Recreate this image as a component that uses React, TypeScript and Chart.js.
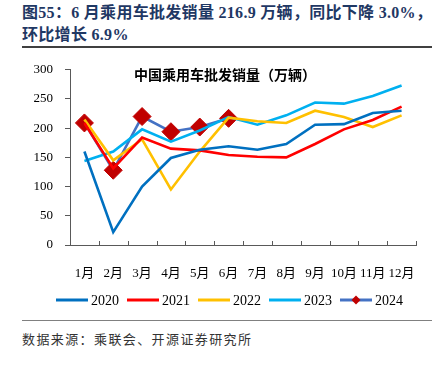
import React, { useEffect, useRef } from "react";
import { Chart, registerables } from "chart.js";

Chart.register(...registerables);

const months = ["1月", "2月", "3月", "4月", "5月", "6月", "7月", "8月", "9月", "10月", "11月", "12月"];
const s2020 = [160, 22, 100, 149, 163, 169, 163, 173, 206, 207, 226, 230];
const s2021 = [209, 131, 184, 165, 162, 154, 151, 150, 173, 198, 214, 237];
const s2022 = [215, 145, 181, 95, 160, 218, 212, 209, 230, 219, 202, 222];
const s2023 = [144, 160, 198, 177, 196, 219, 206, 222, 244, 242, 255, 273];
const s2024 = [209, 128, 220, 194, 202, 216.9];
const yTicks = [0, 50, 100, 150, 200, 250, 300];

const SERIF = '"Liberation Serif", "Times New Roman", "Noto Sans CJK SC", serif';

const overlayPlugin = {
  id: "overlay",
  afterDraw(chart: any) {
    const ctx = chart.ctx;
    const area = chart.chartArea;
    ctx.save();
    ctx.strokeStyle = "#595959";
    ctx.lineWidth = 1;
    const n = months.length;
    const step = (area.right - area.left) / n;
    for (let i = 1; i <= n; i++) {
      const x = Math.round(area.left + i * step) + 0.5;
      ctx.beginPath();
      ctx.moveTo(x, area.bottom);
      ctx.lineTo(x, area.bottom - 4);
      ctx.stroke();
    }
    ctx.fillStyle = "#000";
    ctx.font = 'bold 14px "Noto Sans CJK SC", serif';
    ctx.textAlign = "center";
    ctx.textBaseline = "middle";
    ctx.fillText("中国乘用车批发销量（万辆）", 225, area.top + 5);
    ctx.font = "14px " + SERIF;
    ctx.textAlign = "left";
    const lineW = 32;
    const items = chart.data.datasets.map((d: any) => ({ d, w: ctx.measureText(d.label).width }));
    const gapA = 3;
    const gapB = 8;
    let total = 0;
    items.forEach((it: any, i: number) => {
      total += lineW + gapA + it.w + (i < items.length - 1 ? gapB : 0);
    });
    let x = 229.5 - total / 2;
    const y = 250;
    items.forEach((it: any) => {
      ctx.strokeStyle = it.d.borderColor;
      ctx.lineWidth = 3;
      ctx.beginPath();
      ctx.moveTo(x, y);
      ctx.lineTo(x + lineW, y);
      ctx.stroke();
      if (it.d.pointRadius > 0) {
        ctx.fillStyle = it.d.pointBackgroundColor;
        const cx = x + lineW / 2;
        const r = 4.5;
        ctx.beginPath();
        ctx.moveTo(cx - r, y);
        ctx.lineTo(cx, y - r);
        ctx.lineTo(cx + r, y);
        ctx.lineTo(cx, y + r);
        ctx.closePath();
        ctx.fill();
      }
      ctx.fillStyle = "#000";
      ctx.fillText(it.d.label, x + lineW + gapA, y + 1);
      x += lineW + gapA + it.w + gapB;
    });
    ctx.restore();
  },
};

export default function App() {
  const ref = useRef<HTMLCanvasElement>(null);
  useEffect(() => {
    document.body.style.margin = "0";
    const line = (label: string, data: number[], color: string) => ({
      label,
      data,
      borderColor: color,
      backgroundColor: color,
      borderWidth: 2.6,
      pointRadius: 0,
      tension: 0,
    });
    const chart = new Chart(ref.current!, {
      type: "line",
      data: {
        labels: months,
        datasets: [
          line("2020", s2020, "#0070C0"),
          line("2021", s2021, "#FF0000"),
          line("2022", s2022, "#FFC000"),
          line("2023", s2023, "#00B0F0"),
          {
            label: "2024",
            data: s2024,
            borderColor: "#4472C4",
            backgroundColor: "#C00000",
            pointBackgroundColor: "#C00000",
            pointBorderColor: "#C00000",
            pointStyle: "rectRot",
            pointRadius: 9,
            pointBorderWidth: 1,
            borderWidth: 2.6,
            tension: 0,
          },
        ],
      },
      options: {
        responsive: false,
        animation: false,
        layout: { padding: { left: 0, right: 29, top: 16, bottom: 0 } },
        plugins: { legend: { display: false }, tooltip: { enabled: false }, title: { display: false } },
        scales: {
          x: {
            offset: true,
            grid: { display: false, offset: true },
            border: { display: true, color: "#595959", width: 1 },
            ticks: { color: "#000", padding: 13, maxRotation: 0, autoSkip: false, font: { family: SERIF, size: 13 } },
            afterFit: (s: any) => {
              s.height = 75;
            },
          },
          y: {
            min: 0,
            max: 300,
            afterBuildTicks: (s: any) => {
              s.ticks = yTicks.map((v) => ({ value: v }));
            },
            grid: { display: true, drawOnChartArea: false, tickLength: 5, color: "#595959" },
            border: { display: true, color: "#595959", width: 1 },
            ticks: { color: "#000", padding: 12, font: { family: SERIF, size: 13 } },
            afterFit: (s: any) => {
              s.width = 70;
            },
          },
        },
      },
      plugins: [overlayPlugin],
    });
    return () => chart.destroy();
  }, []);

  return (
    <div style={{ position: "relative", width: 445, height: 365, background: "#fff", overflow: "hidden" }}>
      <div
        style={{
          position: "absolute",
          left: 22,
          top: 2,
          width: 420,
          fontFamily: '"Liberation Serif", "Noto Sans CJK SC", serif',
          fontWeight: "bold",
          fontSize: 16,
          lineHeight: "22px",
          letterSpacing: "0.3px",
          color: "#1F3864",
          whiteSpace: "nowrap",
        }}
      >
        <div>图55：6 月乘用车批发销量 216.9 万辆，同比下降 3.0%，</div>
        <div>环比增长 6.9%</div>
      </div>
      <div style={{ position: "absolute", left: 22, top: 46, width: 410, height: 1.5, background: "#404040" }} />
      <canvas ref={ref} width={445} height={270} style={{ position: "absolute", left: 0, top: 50, width: 445, height: 270 }} />
      <div style={{ position: "absolute", left: 22, top: 320, width: 410, height: 1, background: "#808080" }} />
      <div
        style={{
          position: "absolute",
          left: 22,
          top: 329,
          fontFamily: '"Noto Sans CJK SC", serif',
          fontSize: 13,
          letterSpacing: "1.4px",
          color: "#333",
          whiteSpace: "nowrap",
        }}
      >
        数据来源：乘联会、开源证券研究所
      </div>
    </div>
  );
}
